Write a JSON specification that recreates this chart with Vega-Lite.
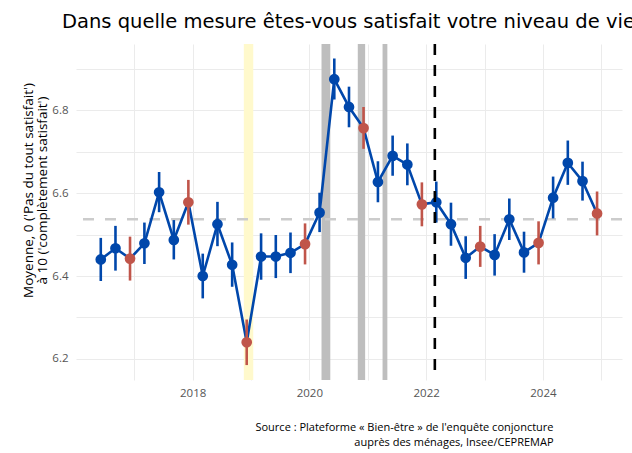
{
  "$schema": "https://vega.github.io/schema/vega-lite/v6.json",
  "width": 546,
  "height": 336,
  "autosize": {"type": "none"},
  "padding": {"left": 76, "top": 44, "right": 10, "bottom": 73},
  "background": "white",
  "title": {
    "text": "Dans quelle mesure êtes-vous satisfait votre niveau de vie",
    "anchor": "start",
    "frame": "group",
    "dx": -14,
    "dy": 20,
    "offset": 15,
    "baseline": "alphabetic",
    "fontSize": 19.5,
    "font": "DejaVu Sans",
    "fontWeight": "normal",
    "color": "black"
  },
  "config": {
    "view": {"stroke": null},
    "font": "Open Sans",
    "axis": {
      "domain": false,
      "ticks": false,
      "gridColor": "#EBEBEB",
      "gridWidth": 1,
      "labelColor": "#555555",
      "labelFontSize": 11.5,
      "labelFont": "Open Sans",
      "titleFont": "Open Sans",
      "titleFontWeight": "normal",
      "titleColor": "black"
    }
  },
  "datasets": {
    "series": [
      {"date": "2016-06-05", "moyenne": 6.440, "lo": 6.388, "hi": 6.492},
      {"date": "2016-09-05", "moyenne": 6.467, "lo": 6.413, "hi": 6.521},
      {"date": "2016-12-05", "moyenne": 6.442, "lo": 6.389, "hi": 6.495},
      {"date": "2017-03-05", "moyenne": 6.479, "lo": 6.429, "hi": 6.529},
      {"date": "2017-06-05", "moyenne": 6.602, "lo": 6.554, "hi": 6.651},
      {"date": "2017-09-05", "moyenne": 6.487, "lo": 6.440, "hi": 6.535},
      {"date": "2017-12-05", "moyenne": 6.578, "lo": 6.524, "hi": 6.632},
      {"date": "2018-03-05", "moyenne": 6.400, "lo": 6.346, "hi": 6.454},
      {"date": "2018-06-05", "moyenne": 6.525, "lo": 6.472, "hi": 6.579},
      {"date": "2018-09-05", "moyenne": 6.427, "lo": 6.374, "hi": 6.481},
      {"date": "2018-12-05", "moyenne": 6.240, "lo": 6.185, "hi": 6.295},
      {"date": "2019-03-05", "moyenne": 6.447, "lo": 6.391, "hi": 6.503},
      {"date": "2019-06-05", "moyenne": 6.447, "lo": 6.395, "hi": 6.499},
      {"date": "2019-09-05", "moyenne": 6.456, "lo": 6.407, "hi": 6.505},
      {"date": "2019-12-05", "moyenne": 6.477, "lo": 6.428, "hi": 6.527},
      {"date": "2020-03-05", "moyenne": 6.553, "lo": 6.506, "hi": 6.601},
      {"date": "2020-06-05", "moyenne": 6.875, "lo": 6.826, "hi": 6.925},
      {"date": "2020-09-05", "moyenne": 6.808, "lo": 6.759, "hi": 6.857},
      {"date": "2020-12-05", "moyenne": 6.757, "lo": 6.707, "hi": 6.808},
      {"date": "2021-03-05", "moyenne": 6.627, "lo": 6.578, "hi": 6.677},
      {"date": "2021-06-05", "moyenne": 6.690, "lo": 6.642, "hi": 6.739},
      {"date": "2021-09-05", "moyenne": 6.669, "lo": 6.619, "hi": 6.720},
      {"date": "2021-12-05", "moyenne": 6.573, "lo": 6.520, "hi": 6.626},
      {"date": "2022-03-05", "moyenne": 6.578, "lo": 6.529, "hi": 6.628},
      {"date": "2022-06-05", "moyenne": 6.525, "lo": 6.473, "hi": 6.577},
      {"date": "2022-09-05", "moyenne": 6.444, "lo": 6.393, "hi": 6.496},
      {"date": "2022-12-05", "moyenne": 6.471, "lo": 6.422, "hi": 6.521},
      {"date": "2023-03-05", "moyenne": 6.451, "lo": 6.401, "hi": 6.501},
      {"date": "2023-06-05", "moyenne": 6.537, "lo": 6.487, "hi": 6.587},
      {"date": "2023-09-05", "moyenne": 6.457, "lo": 6.408, "hi": 6.507},
      {"date": "2023-12-05", "moyenne": 6.480, "lo": 6.428, "hi": 6.532},
      {"date": "2024-03-05", "moyenne": 6.589, "lo": 6.539, "hi": 6.640},
      {"date": "2024-06-05", "moyenne": 6.673, "lo": 6.620, "hi": 6.727},
      {"date": "2024-09-05", "moyenne": 6.629, "lo": 6.582, "hi": 6.676},
      {"date": "2024-12-05", "moyenne": 6.551, "lo": 6.498, "hi": 6.604}
    ],
    "bands": [
      {"debut": "2018-11-17", "fin": "2019-01-15", "periode": "Gilets jaunes"},
      {"debut": "2020-03-17", "fin": "2020-05-11", "periode": "Confinement"},
      {"debut": "2020-10-30", "fin": "2020-12-15", "periode": "Confinement"},
      {"debut": "2021-04-03", "fin": "2021-05-03", "periode": "Confinement"}
    ],
    "moyenne": [{"valeur": 6.537}],
    "evenement": [{"date": "2022-02-24"}]
  },
  "layer": [
    {
      "data": {"name": "bands"},
      "mark": {"type": "rect"},
      "encoding": {
        "x": {"field": "debut", "type": "temporal",
              "scale": {"domain": [{"year": 2016, "month": 1, "date": 2}, {"year": 2025, "month": 5, "date": 10}], "nice": false}},
        "x2": {"field": "fin"},
        "color": {"field": "periode", "type": "nominal",
                  "scale": {"domain": ["Gilets jaunes", "Confinement"], "range": ["#FFF9CC", "#BEBEBE"]},
                  "legend": null}
      }
    },
    {
      "data": {"name": "moyenne"},
      "mark": {"type": "rule", "color": "#CCCCCC", "strokeWidth": 2.4, "strokeDash": [11, 11]},
      "encoding": {
        "y": {"field": "valeur", "type": "quantitative",
              "scale": {"domain": [6.149, 6.96], "zero": false, "nice": false}}
      }
    },
    {
      "data": {"name": "series"},
      "mark": {"type": "line", "color": "#0047AB", "strokeWidth": 2.6},
      "encoding": {
        "x": {"field": "date", "type": "temporal",
              "scale": {"domain": [{"year": 2016, "month": 1, "date": 2}, {"year": 2025, "month": 5, "date": 10}], "nice": false},
              "axis": {
                "values": [{"year": 2017}, {"year": 2018}, {"year": 2019}, {"year": 2020}, {"year": 2021}, {"year": 2022}, {"year": 2023}, {"year": 2024}, {"year": 2025}],
                "labelExpr": "year(datum.value) % 2 == 0 ? timeFormat(datum.value, '%Y') : ''",
                "grid": true,
                "labelPadding": 7,
                "labelFlush": false,
                "title": ["Source : Plateforme « Bien-être » de l'enquête conjoncture", "auprès des ménages, Insee/CEPREMAP"],
                "titleX": 477,
                "titleY": 50,
                "titleAlign": "right",
                "titleAnchor": null,
                "titleBaseline": "alphabetic",
                "titleLineHeight": 15,
                "titleFontSize": 11
              }},
        "y": {"field": "moyenne", "type": "quantitative",
              "scale": {"domain": [6.149, 6.96], "zero": false, "nice": false},
              "axis": {
                "values": [6.2, 6.3, 6.4, 6.5, 6.6, 6.7, 6.8, 6.9],
                "labelExpr": "round(datum.value * 10) % 2 == 0 ? format(datum.value, '.1f') : ''",
                "grid": true,
                "labelPadding": 8,
                "title": ["Moyenne, 0 ('Pas du tout satisfait')", "à 10 ('complètement satisfait')"],
                "titleX": -48,
                "titleY": 146,
                "titleAngle": 270,
                "titleAlign": "center",
                "titleBaseline": "middle",
                "titleFontSize": 13.5,
                "titleLineHeight": 14.5
              }}
      }
    },
    {
      "data": {"name": "series"},
      "mark": {"type": "rule", "strokeWidth": 2.6},
      "encoding": {
        "x": {"field": "date", "type": "temporal"},
        "y": {"field": "lo", "type": "quantitative"},
        "y2": {"field": "hi"},
        "color": {"condition": {"test": "utcmonth(datum.date) == 11", "value": "#C0554A"}, "value": "#0047AB"}
      }
    },
    {
      "data": {"name": "series"},
      "mark": {"type": "point", "filled": true, "size": 115, "opacity": 1},
      "encoding": {
        "x": {"field": "date", "type": "temporal"},
        "y": {"field": "moyenne", "type": "quantitative"},
        "color": {"condition": {"test": "utcmonth(datum.date) == 11", "value": "#C0554A"}, "value": "#0047AB"}
      }
    },
    {
      "data": {"name": "evenement"},
      "mark": {"type": "rule", "color": "black", "strokeWidth": 2.6, "strokeDash": [11, 10]},
      "encoding": {
        "x": {"field": "date", "type": "temporal"}
      }
    }
  ]
}
